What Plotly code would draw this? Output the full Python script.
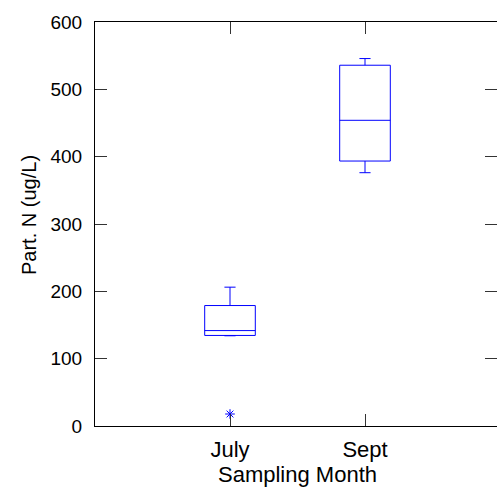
import plotly.graph_objects as go

# Particulate nitrogen by sampling month (box statistics, ug/L)
months = ["July", "Sept"]
month_pos = [1, 2]
q1 = [134.5, 393.5]
median = [141.7, 454.0]
q3 = [178.9, 535.8]
lower_whisker = [134.0, 376.2]
upper_whisker = [206.2, 545.7]

# Outliers
outlier_pos = [1]
outlier_val = [17.8]

y_ticks = [0, 100, 200, 300, 400, 500, 600]

BLUE = "#0000ff"
FONT = "Liberation Sans, Arial, Helvetica, sans-serif"

fig = go.Figure()
fig.add_trace(go.Box(
    x=month_pos,
    q1=q1, median=median, q3=q3,
    lowerfence=lower_whisker, upperfence=upper_whisker,
    width=0.375,
    whiskerwidth=0.22,
    line=dict(color=BLUE, width=1),
    fillcolor="rgba(0,0,0,0)",
    boxpoints=False,
    hoverinfo="skip",
    showlegend=False,
))
# Outliers go on the right-hand (mirrored) y axis, which shares the same range
fig.add_trace(go.Scatter(
    x=outlier_pos, y=outlier_val,
    yaxis="y2",
    mode="markers",
    marker=dict(symbol="asterisk-open", size=8, color=BLUE,
                line=dict(color=BLUE, width=1)),
    hoverinfo="skip",
    showlegend=False,
))

W, H = 497, 489
L, R, T, B = 95, 0, 22, 63

fig.update_layout(
    width=W, height=H,
    margin=dict(l=L, r=R, t=T, b=B, pad=0),
    plot_bgcolor="white",
    paper_bgcolor="white",
    font=dict(family=FONT, color="black"),
    xaxis=dict(
        range=[0, 402 / 135],
        tickvals=month_pos, ticktext=months,
        ticks="inside", ticklen=12, tickwidth=1, tickcolor="#333333",
        showline=True, linecolor="black", linewidth=1, mirror="ticks",
        showgrid=False, zeroline=False,
        tickfont=dict(size=22, family=FONT, color="black"),
        ticklabelstandoff=4,
    ),
    yaxis=dict(
        range=[0, 600],
        tickvals=y_ticks,
        ticks="inside", ticklen=12, tickwidth=1, tickcolor="#333333",
        showline=True, linecolor="black", linewidth=1, mirror=False,
        showgrid=False, zeroline=False,
        tickfont=dict(size=19, family=FONT, color="black"),
        ticklabelstandoff=8,
    ),
    yaxis2=dict(
        overlaying="y", side="right", anchor="x",
        range=[0, 600], tickvals=y_ticks,
        ticks="inside", ticklen=12, tickwidth=1, tickcolor="#333333",
        showline=False, showticklabels=False,
        showgrid=False, zeroline=False,
    ),
    annotations=[
        dict(text="Part. N (ug/L)", textangle=-90,
             xref="paper", yref="paper",
             x=(29 - L) / (W - L - R), y=(H - B - 215) / (H - T - B),
             xanchor="center", yanchor="middle", showarrow=False,
             font=dict(size=20, family=FONT, color="black")),
        dict(text="Sampling Month",
             xref="paper", yref="paper",
             x=(297 - L) / (W - L - R), y=(H - B - 475) / (H - T - B),
             xanchor="center", yanchor="middle", showarrow=False,
             font=dict(size=22, family=FONT, color="black")),
    ],
)

fig.write_html("out.html")
